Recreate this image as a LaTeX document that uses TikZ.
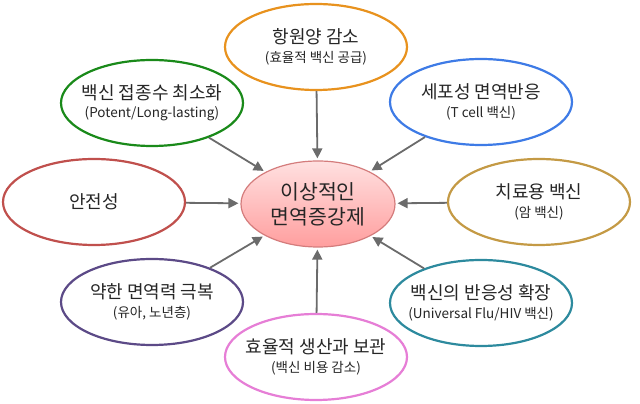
\documentclass[tikz,border=0pt]{standalone}
\usepackage{fontspec}
\setmainfont{Noto Sans CJK KR}
\usepackage{xcolor}
\definecolor{cText}{HTML}{262626}
\definecolor{cArrow}{HTML}{6B6B6B}
\definecolor{cOrange}{HTML}{E8921E}
\definecolor{cGreen}{HTML}{1A8A1A}
\definecolor{cBlue}{HTML}{3E7BE6}
\definecolor{cRed}{HTML}{C0504D}
\definecolor{cGold}{HTML}{C49A45}
\definecolor{cPurple}{HTML}{5C4A87}
\definecolor{cTeal}{HTML}{2D8A9E}
\definecolor{cPink}{HTML}{E67ED6}
\definecolor{cCore}{HTML}{D47C7C}
\usepackage{tikz}
\usetikzlibrary{positioning,arrows.meta,shapes.geometric}
\newcommand{\mainfs}{\fontsize{18}{22}\selectfont}
\newcommand{\subfs}{\fontsize{13.5}{16}\selectfont}
\newcommand{\corefs}{\fontsize{20.5}{25}\selectfont}
\tikzset{
  node-goal/.style={ellipse,line width=2.2pt,fill=white,text=cText,
    minimum width=182pt,minimum height=86pt,inner xsep=-40pt,inner ysep=-20pt,
    align=center},
  node-core/.style={ellipse,line width=1.2pt,draw=cCore,
    top color=red!12,bottom color=red!38,text=cText,
    minimum width=154pt,minimum height=86pt,inner xsep=-30pt,inner ysep=-20pt,
    align=center,font=\corefs},
  arrow/.style={-{Triangle[length=10pt,width=10pt]},line width=1.8pt,
    draw=cArrow,shorten >=2pt},
}
\newcommand{\goal}[2]{{\mainfs #1}\\[5pt]{\subfs #2}}

\begin{document}
\begin{tikzpicture}[x=1pt,y=1pt]
  \useasboundingbox (0,0) rectangle (640,404);
  \node[node-core]                     (core)    at (318,200) {이상적인\\면역증강제};
  \node[node-goal,draw=cOrange]        (antigen) at (316,357) {\goal{항원양 감소}{(효율적 백신 공급)}};
  \node[node-goal,draw=cGreen]         (dose)    at (152,301) {\goal{백신 접종수 최소화}{(Potent/Long-lasting)}};
  \node[node-goal,draw=cBlue]          (tcell)   at (481,302) {\goal{세포성 면역반응}{(T cell 백신)}};
  \node[node-goal,draw=cRed]           (safety)  at (94,202)  {{\mainfs 안전성}};
  \node[node-goal,draw=cGold]          (therapy) at (539,202) {\goal{치료용 백신}{(암 백신)}};
  \node[node-goal,draw=cPurple]        (weak)    at (152,102) {\goal{약한 면역력 극복}{(유아, 노년층)}};
  \node[node-goal,draw=cTeal]          (broad)   at (481,101) {\goal{백신의 반응성 확장}{(Universal Flu/HIV 백신)}};
  \node[node-goal,draw=cPink]          (prod)    at (316,47)  {\goal{효율적 생산과 보관}{(백신 비용 감소)}};
  \draw[arrow] (antigen) -- (core);
  \draw[arrow] (dose)    -- (core);
  \draw[arrow] (tcell)   -- (core);
  \draw[arrow] (safety)  -- (core);
  \draw[arrow] (therapy) -- (core);
  \draw[arrow] (weak)    -- (core);
  \draw[arrow] (broad)   -- (core);
  \draw[arrow] (prod)    -- (core);
\end{tikzpicture}
\end{document}
